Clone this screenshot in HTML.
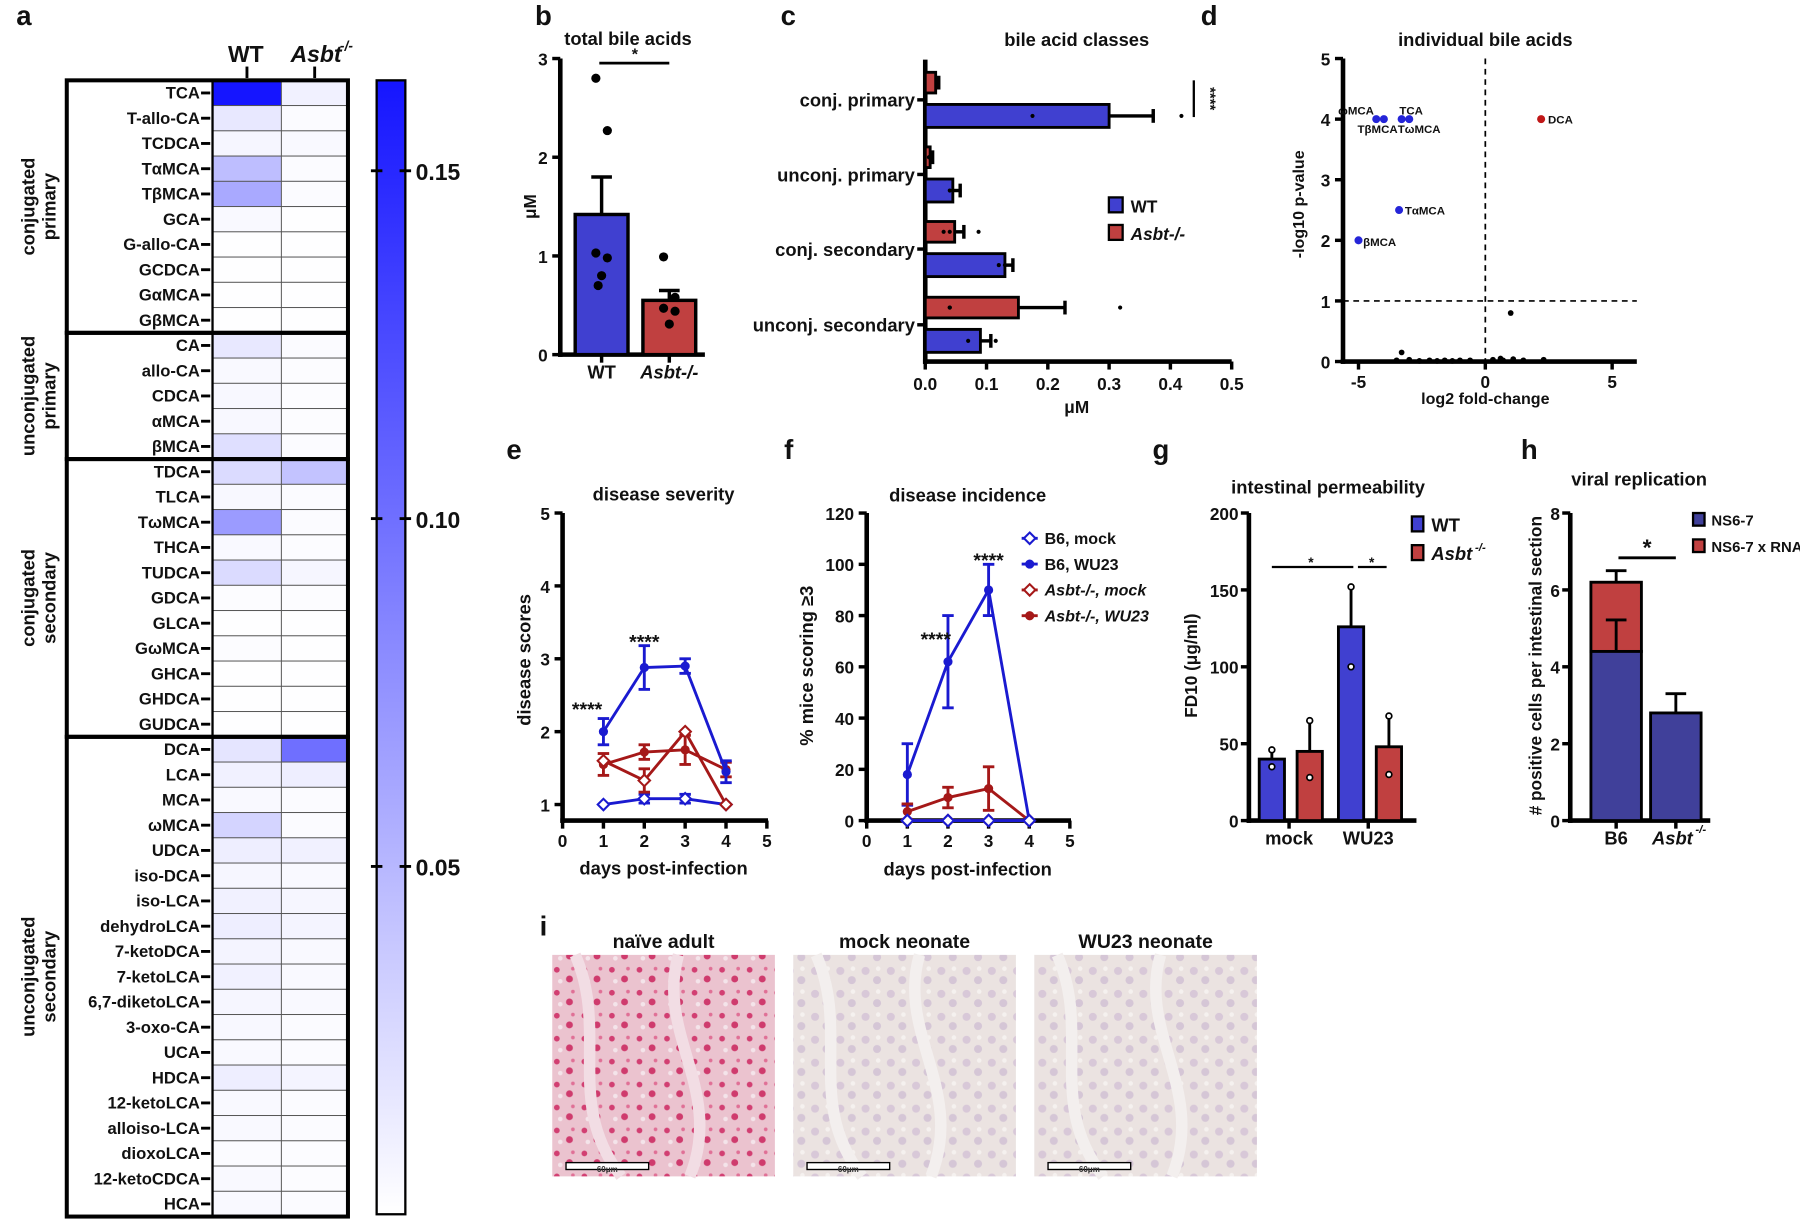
<!DOCTYPE html>
<html><head><meta charset="utf-8"><style>
html,body{margin:0;padding:0;background:#fff;}
svg{display:block;font-family:"Liberation Sans",Arial,sans-serif;font-weight:bold;}
.n{font-family:"Liberation Sans Narrow","Liberation Sans",sans-serif;}
</style></head><body>
<svg id="fig" xmlns="http://www.w3.org/2000/svg" width="1800" height="1220" viewBox="0 0 1568 1063">
<defs>
<linearGradient id="cbar" x1="0" y1="1" x2="0" y2="0"><stop offset="0" stop-color="#ffffff"/><stop offset="1" stop-color="#1515ff"/></linearGradient>
<pattern id="pinkTex" width="24" height="20" patternUnits="userSpaceOnUse"><rect width="24" height="20" fill="#ebc3cf"/><circle cx="5" cy="5" r="2.5" fill="#d23f72"/><circle cx="16" cy="13" r="3" fill="#cf3b6d"/><circle cx="19" cy="4" r="1.6" fill="#e07096"/><circle cx="8" cy="15" r="2" fill="#f4e4ea"/></pattern>
<pattern id="paleTex" width="22" height="20" patternUnits="userSpaceOnUse"><rect width="22" height="20" fill="#ebe3e1"/><circle cx="6" cy="6" r="3.5" fill="#d8c8d8"/><circle cx="16" cy="14" r="3.5" fill="#d5c6d6"/><circle cx="17" cy="4" r="2" fill="#f5f1ef"/></pattern>
</defs>
</svg>
<script>
const NS='http://www.w3.org/2000/svg';
const svg=document.getElementById('fig');
function mk(tag,attrs,name,parent){const el=document.createElementNS(NS,tag);for(const k in attrs)el.setAttribute(k,attrs[k]);


(parent||svg).appendChild(el);return el;}
function tx(x,y,s,name,o){o=o||{};const el=mk('text',{x:x,y:y,'font-size':o.fs||15,'text-anchor':o.a||'middle',fill:o.fill||'#111','font-style':o.it?'italic':'normal',class:o.cls||'',transform:o.rot?`rotate(${o.rot} ${x} ${y})`:''},name);el.textContent=s;return el;}
function ln(x1,y1,x2,y2,name,w,c,dash){return mk('line',{x1:x1,y1:y1,x2:x2,y2:y2,stroke:c||'#000','stroke-width':w||3,'stroke-dasharray':dash||''},name);}
function rc(x,y,w,h,fill,name,sw){return mk('rect',{x:x,y:y,width:w,height:h,fill:fill,stroke:sw===0?'none':'#000','stroke-width':sw||2},name);}
function dot(x,y,r,fill,name,stroke){return mk('circle',{cx:x,cy:y,r:r,fill:fill,stroke:stroke||'none','stroke-width':1.5},name);}

// ---------- Panel letters ----------
const letters=[['a',14,22],['b',466,22],['c',680,22],['d',1046,22],['e',441,400],['f',683,400],['g',1004,400],['h',1325,400],['i',470,815]];
letters.forEach(l=>tx(l[1],l[2],l[0],'panel-letter-'+l[0],{fs:24,a:'start'}));

// ---------- Panel a: heatmap ----------
const haNames=['TCA','T-allo-CA','TCDCA','TαMCA','TβMCA','GCA','G-allo-CA','GCDCA','GαMCA','GβMCA','CA','allo-CA','CDCA','αMCA','βMCA','TDCA','TLCA','TωMCA','THCA','TUDCA','GDCA','GLCA','GωMCA','GHCA','GHDCA','GUDCA','DCA','LCA','MCA','ωMCA','UDCA','iso-DCA','iso-LCA','dehydroLCA','7-ketoDCA','7-ketoLCA','6,7-diketoLCA','3-oxo-CA','UCA','HDCA','12-ketoLCA','alloiso-LCA','dioxoLCA','12-ketoCDCA','HCA'];
const haWT=[0.163,0.016,0.006,0.045,0.06,0.004,0.001,0.001,0.001,0.001,0.016,0.004,0.005,0.005,0.022,0.025,0.005,0.07,0.004,0.025,0.002,0.001,0.002,0.001,0.001,0.001,0.018,0.01,0.004,0.03,0.012,0.006,0.01,0.012,0.008,0.01,0.006,0.005,0.004,0.012,0.004,0.004,0.003,0.004,0.004];
const haKO=[0.01,0.003,0.004,0.003,0.003,0.001,0.001,0.001,0.001,0.001,0.003,0.002,0.002,0.002,0.003,0.042,0.003,0.003,0.002,0.006,0.002,0.001,0.001,0.001,0.0005,0.0005,0.1,0.012,0.003,0.003,0.01,0.004,0.006,0.008,0.004,0.004,0.004,0.003,0.003,0.008,0.003,0.003,0.002,0.002,0.003];
const haGroups=[['conjugated','primary',10],['unconjugated','primary',5],['conjugated','secondary',11],['unconjugated','secondary',19]];
const cbTicks=[0.05,0.10,0.15];
const HMAX=0.163,rowY0=70,rowH=22,colX=[185,245],colW=[60,58];
function heatColor(v){const t=Math.max(0,Math.min(1,v/HMAX));const r=Math.round(255-t*(255-21));return `rgb(${r},${r},255)`;}
const gHeat=mk('g',{},'heatmap');
haNames.forEach((nm,i)=>{
  const y=rowY0+i*rowH;
  [haWT[i],haKO[i]].forEach((v,j)=>{
    mk('rect',{x:colX[j],y:y,width:colW[j],height:rowH,fill:heatColor(v),stroke:'#555','stroke-width':0.8},'heat-cell',gHeat);
  });
  tx(174,y+16,nm,'row-label',{fs:14.5,a:'end'});
  ln(175,y+11,183,y+11,'row-tick',2.5);
});
let gy=rowY0;
haGroups.forEach((g,k)=>{
  const h=g[2]*rowH;
  rc(58,gy,245,h,'none','group-box-'+k,3.5);
  ln(185,gy,185,gy+h,'group-divider',2);
  const cy=gy+h/2;
  tx(30,cy,g[0],'group-label',{fs:16,rot:-90});
  tx(48,cy,g[1],'group-label',{fs:16,rot:-90});
  gy+=h;
});
tx(214,54,'WT','col-label-wt',{fs:20});
tx(253,54,'Asbt','col-label-asbt',{fs:20,it:true,a:'start'});
tx(296,44,'-/-','col-label-sup',{fs:12,it:true,a:'start'});
ln(215,58,215,68,'col-tick',2.5);ln(274,58,274,68,'col-tick',2.5);
const cbY0=70,cbY1=1058;
rc(328,cbY0,25,cbY1-cbY0,'url(#cbar)','colorbar',2);
function cbY(v){return cbY1-(v/HMAX)*(cbY1-cbY0);}
cbTicks.forEach(t=>{const y=cbY(t);ln(323,y,333,y,'colorbar-tick',2.5);ln(348,y,358,y,'colorbar-tick',2.5);tx(362,y+8,t.toFixed(2),'colorbar-label',{fs:20,a:'start'});});

// ---------- Panel b ----------
const bCats=['WT','Asbt-/-'];
const bMeans=[1.42,0.55];
const bErr=[1.8,0.65];
const bPtsWT=[2.8,2.27,1.03,0.98,0.8,0.7];
const bPtsKO=[0.99,0.58,0.47,0.44,0.31];
const bTicks=[0,1,2,3];
function bY(v){return 309-v*86;}
const bX=[524,583],bW=[46,46],bColors=['#4040d0','#c04040'];
ln(488,bY(3),488,311,'b-y-axis',4);ln(486,309,614,309,'b-x-axis',4);
bTicks.forEach(t=>{ln(481,bY(t),488,bY(t),'b-y-tick',3);tx(477,bY(t)+6,t,'b-y-label',{fs:15,a:'end',cls:'n'});});
bMeans.forEach((m,i)=>{ln(bX[i],bY(m),bX[i],bY(bErr[i]),'b-errbar',3);ln(bX[i]-9,bY(bErr[i]),bX[i]+9,bY(bErr[i]),'b-errcap',3);rc(bX[i]-bW[i]/2,bY(m),bW[i],bY(0)-bY(m),bColors[i],'b-bar-'+i,3);ln(bX[i],309,bX[i],316,'b-x-tick',3);});
[bPtsWT,bPtsKO].forEach((pts,i)=>pts.forEach((p,k)=>dot(bX[i]+[-5,5,-5,5,0,-3][k],bY(p),4,'#000','b-point')));
tx(bX[0],330,'WT','b-x-label',{fs:16,cls:'n'});tx(bX[1],330,'Asbt-/-','b-x-label',{fs:16,it:true,cls:'n'});
tx(547,39,'total bile acids','b-title',{fs:16,cls:'n'});
ln(522,55,583,55,'b-sig-line',2.5);tx(553,52,'*','b-sig',{fs:14});
tx(467,180,'μM','b-y-title',{fs:15,rot:-90});

// ---------- Panel c ----------
const cCats=['conj. primary','unconj. primary','conj. secondary','unconj. secondary'];
const cKO=[0.017,0.008,0.048,0.152];
const cKOerr=[0.022,0.012,0.063,0.228];
const cWT=[0.3,0.045,0.13,0.09];
const cWTerr=[0.372,0.057,0.143,0.107];
const cPtsWT=[[0.175,0.418],[0.04,0.045],[0.12,0.13],[0.07,0.115]];
const cPtsKO=[[0.02],[0.006],[0.03,0.04,0.087],[0.04,0.04,0.318]];
const cTicks=[0,0.1,0.2,0.3,0.4,0.5];
function cX(v){return 806+v*534;}
const cCatY=[87,152,217,283];
ln(806,52,806,317,'c-y-axis',4);ln(804,315,1073,315,'c-x-axis',4);
cTicks.forEach(t=>{ln(cX(t),315,cX(t),322,'c-x-tick',3);tx(cX(t),340,t.toFixed(1),'c-x-label',{fs:15,cls:'n'});});
cCats.forEach((c,i)=>{
  const yc=cCatY[i];
  ln(799,yc,806,yc,'c-y-tick',3);tx(797,yc+6,c,'c-y-label',{fs:16,a:'end',cls:'n'});
  const yr=yc-24,yb=yc+4;
  ln(cX(cKO[i]),yr+9,cX(cKOerr[i]),yr+9,'c-err',3);ln(cX(cKOerr[i]),yr+3,cX(cKOerr[i]),yr+15,'c-errcap',3);
  rc(806,yr,cX(cKO[i])-806,18,'#c04040','c-bar-ko',2.5);
  ln(cX(cWT[i]),yb+10,cX(cWTerr[i]),yb+10,'c-err',3);ln(cX(cWTerr[i]),yb+4,cX(cWTerr[i]),yb+16,'c-errcap',3);
  rc(806,yb,cX(cWT[i])-806,20,'#4040d0','c-bar-wt',2.5);
  cPtsKO[i].forEach(p=>dot(cX(p),yr+9,1.8,'#000','c-point'));
  cPtsWT[i].forEach(p=>dot(cX(p),yb+10,1.8,'#000','c-point'));
});
tx(938,360,'μM','c-x-title',{fs:15});
tx(938,40,'bile acid classes','c-title',{fs:16,cls:'n'});
rc(966,172,12,13,'#4040d0','c-legend-wt-swatch',2);tx(985,185,'WT','c-legend-wt',{fs:15,a:'start',cls:'n'});
rc(966,196,12,13,'#c04040','c-legend-ko-swatch',2);tx(985,209,'Asbt-/-','c-legend-ko',{fs:15,a:'start',it:true,cls:'n'});
ln(1040,70,1040,102,'c-sig-line',2);tx(1050,86,'****','c-sig',{fs:13,rot:90});

// ---------- Panel d ----------
const dBlue=[[-4.3,4.0],[-4.0,4.0],[-3.3,4.0],[-3.0,4.0],[-3.4,2.5],[-5.0,2.0]];
const dBlueNames=['ωMCA','TβMCA','TCA','TωMCA','TαMCA','βMCA'];
const dRed=[[2.2,4.0]];
const dBlack=[[1.0,0.8],[-3.3,0.15],[-3.5,0.02],[-3.0,0.03],[-2.6,0.01],[-2.2,0.02],[-1.9,0.01],[-1.6,0.02],[-1.3,0.01],[-0.6,0.02],[0.3,0.03],[0.6,0.05],[0.7,0.02],[1.1,0.04],[1.5,0.02],[2.3,0.03],[-1.0,0.02]];
const dXTicks=[-5,0,5],dYTicks=[0,1,2,3,4,5];
const dLblOff=[[-2,-4,'end'],[12,12,'end'],[-2,-4,'start'],[-10,12,'start'],[5,4,'start'],[4,5,'start']];
function dX(v){return 1294+v*22.1;}function dY(v){return 315-v*52.8;}
ln(1170,dY(5),1170,317,'d-y-axis',4);ln(1168,315,1426,315,'d-x-axis',4);
dYTicks.forEach(t=>{ln(1163,dY(t),1170,dY(t),'d-y-tick',3);tx(1159,dY(t)+6,t,'d-y-label',{fs:15,a:'end',cls:'n'});});
dXTicks.forEach(t=>{ln(dX(t),315,dX(t),322,'d-x-tick',3);tx(dX(t),338,t,'d-x-label',{fs:15,cls:'n'});});
ln(dX(0),dY(5),dX(0),315,'d-vline',1.5,'#000','5,4');ln(1170,dY(1),1426,dY(1),'d-hline',1.5,'#000','5,4');
dBlack.forEach(p=>dot(dX(p[0]),dY(p[1]),2.5,'#000','d-point-ns'));
dBlue.forEach((p,i)=>{dot(dX(p[0]),dY(p[1]),3.5,'#2525d8','d-point-down');const o=dLblOff[i];tx(dX(p[0])+o[0],dY(p[1])+o[1],dBlueNames[i],'d-point-label',{fs:10,a:o[2]});});
dRed.forEach(p=>{dot(dX(p[0]),dY(p[1]),3.5,'#c01818','d-point-up');tx(dX(p[0])+6,dY(p[1])+4,'DCA','d-point-label',{fs:10,a:'start'});});
tx(1294,40,'individual bile acids','d-title',{fs:16,cls:'n'});
tx(1294,352,'log2 fold-change','d-x-title',{fs:14});
tx(1136,178,'-log10 p-value','d-y-title',{fs:14,rot:-90});

// ---------- Panel e ----------
const days=[1,2,3,4];
const eB6mock=[1,1.08,1.08,1];
const eB6mockErr=[0,0.06,0.06,0];
const eB6wu=[2.0,2.88,2.9,1.45];
const eB6wuErr=[0.18,0.3,0.1,0.15];
const eKOmock=[1.6,1.33,2.0,1.0];
const eKOmockErr=[0,0.16,0,0];
const eKOwu=[1.55,1.72,1.75,1.48];
const eKOwuErr=[0.15,0.1,0.2,0.1];
const eYTicks=[1,2,3,4,5],xTicks=[0,1,2,3,4,5];
function eX(v){return 490+v*35.6;}function eY(v){return 701-(v-1)*63.5;}
ln(490,447,490,717,'e-y-axis',4);ln(488,715,669,715,'e-x-axis',4);
eYTicks.forEach(t=>{ln(483,eY(t),490,eY(t),'e-y-tick',3);tx(479,eY(t)+6,t,'e-y-label',{fs:15,a:'end',cls:'n'});});
xTicks.forEach(t=>{ln(eX(t),715,eX(t),722,'e-x-tick',3);tx(eX(t),738,t,'e-x-label',{fs:15,cls:'n'});});
function series(X,Y,vals,errs,color,filled,name){
  const pts=vals.map((v,i)=>X(days[i])+','+Y(v)).join(' ');
  mk('polyline',{points:pts,fill:'none',stroke:color,'stroke-width':2.5},name+'-line');
  vals.forEach((v,i)=>{const x=X(days[i]);if(errs[i]>0){ln(x,Y(v-errs[i]),x,Y(v+errs[i]),name+'-err',2.5,color);ln(x-5,Y(v+errs[i]),x+5,Y(v+errs[i]),name+'-cap',2.5,color);ln(x-5,Y(v-errs[i]),x+5,Y(v-errs[i]),name+'-cap',2.5,color);}
    if(filled)dot(x,Y(v),4,color,name+'-point');
    else mk('polygon',{points:`${x},${Y(v)-5} ${x+5},${Y(v)} ${x},${Y(v)+5} ${x-5},${Y(v)}`,fill:'#fff',stroke:color,'stroke-width':1.8},name+'-point');});
}
series(eX,eY,eB6mock,eB6mockErr,'#1a1ad0',false,'e-b6-mock');
series(eX,eY,eKOwu,eKOwuErr,'#a51818',true,'e-ko-wu23');
series(eX,eY,eKOmock,eKOmockErr,'#a51818',false,'e-ko-mock');
series(eX,eY,eB6wu,eB6wuErr,'#1a1ad0',true,'e-b6-wu23');
tx(eX(0.6),624,'****','e-sig',{fs:17});tx(eX(2),565,'****','e-sig',{fs:17});
tx(578,436,'disease severity','e-title',{fs:16,cls:'n'});
tx(578,762,'days post-infection','e-x-title',{fs:16,cls:'n'});
tx(462,575,'disease scores','e-y-title',{fs:16,rot:-90});

// ---------- Panel f ----------
const fB6mock=[0,0,0,0];
const fB6wu=[18,62,90,0];
const fB6wuErr=[12,18,10,0];
const fKOmock=[0,0,0,0];
const fKOwu=[3.5,9,12.5,0];
const fKOwuErr=[3,4,8.5,0];
const fYTicks=[0,20,40,60,80,100,120];
function fX(v){return 755+v*35.4;}function fY(v){return 715-v*2.233;}
ln(755,447,755,717,'f-y-axis',4);ln(753,715,933,715,'f-x-axis',4);
fYTicks.forEach(t=>{ln(748,fY(t),755,fY(t),'f-y-tick',3);tx(744,fY(t)+6,t,'f-y-label',{fs:15,a:'end',cls:'n'});});
xTicks.forEach(t=>{ln(fX(t),715,fX(t),722,'f-x-tick',3);tx(fX(t),738,t,'f-x-label',{fs:15,cls:'n'});});
series(fX,fY,fB6wu,fB6wuErr,'#1a1ad0',true,'f-b6-wu23');
series(fX,fY,fKOwu,fKOwuErr,'#a51818',true,'f-ko-wu23');
series(fX,fY,fKOmock,[0,0,0,0],'#a51818',false,'f-ko-mock');
series(fX,fY,fB6mock,[0,0,0,0],'#1a1ad0',false,'f-b6-mock');
tx(fX(1.7),563,'****','f-sig',{fs:17});tx(fX(3),494,'****','f-sig',{fs:17});
tx(843,437,'disease incidence','f-title',{fs:16,cls:'n'});
tx(843,763,'days post-infection','f-x-title',{fs:16,cls:'n'});
tx(708,580,'% mice scoring ≥3','f-y-title',{fs:16,rot:-90});
const legE=[['B6, mock','#1a1ad0',false,false],['B6, WU23','#1a1ad0',true,false],['Asbt-/-, mock','#a51818',false,true],['Asbt-/-, WU23','#a51818',true,true]];
legE.forEach((l,i)=>{const y=469+i*22.5;ln(890,y,904,y,'legend-line',2.5,l[1]);
 if(l[2])dot(897,y,4,l[1],'legend-marker');else mk('polygon',{points:`897,${y-5} 902,${y} 897,${y+5} 892,${y}`,fill:'#fff',stroke:l[1],'stroke-width':1.8},'legend-marker');
 tx(910,y+5,l[0],'legend-entry',{fs:14,a:'start',it:l[3],cls:'n'});});

// ---------- Panel g ----------
const gGroups=['mock','WU23'];
const gWT=[40,126];
const gWTerr=[46,152];
const gKO=[45,48];
const gKOerr=[65,68];
const gPtsWT=[35,100];
const gPtsKO=[28,30];
const gYTicks=[0,50,100,150,200];
function gY(v){return 715-v*1.34;}
const gCx=[1123,1192];
ln(1088,447,1088,717,'g-y-axis',4);ln(1086,715,1234,715,'g-x-axis',4);
gYTicks.forEach(t=>{ln(1081,gY(t),1088,gY(t),'g-y-tick',3);tx(1079,gY(t)+6,t,'g-y-label',{fs:15,a:'end',cls:'n'});});
gGroups.forEach((g,i)=>{
  const xw=gCx[i]-26,xk=gCx[i]+7;
  [[xw,gWT[i],gWTerr[i],gPtsWT[i],'#4040d0'],[xk,gKO[i],gKOerr[i],gPtsKO[i],'#c04040']].forEach(b=>{
    ln(b[0]+11,gY(b[1]),b[0]+11,gY(b[2]),'g-err',2.5);dot(b[0]+11,gY(b[2]),2.5,'#fff','g-point','#000');
    rc(b[0],gY(b[1]),22,gY(0)-gY(b[1]),b[4],'g-bar',2.5);
    dot(b[0]+11,gY(b[3]),2.5,'#fff','g-point','#000');
  });
  ln(gCx[i],715,gCx[i],722,'g-x-tick',3);tx(gCx[i],736,g,'g-x-label',{fs:16});
});
ln(1108,494,1179,494,'g-sig-line',2);tx(1142,494,'*','g-sig',{fs:12});
ln(1183,494,1208,494,'g-sig-line',2);tx(1195,494,'*','g-sig',{fs:12});
tx(1157,430,'intestinal permeability','g-title',{fs:16,cls:'n'});
tx(1043,580,'FD10 (μg/ml)','g-y-title',{fs:15,rot:-90});
rc(1230,450,10,13,'#4040d0','g-legend-wt-swatch',2);tx(1247,463,'WT','g-legend-wt',{fs:16,a:'start'});
rc(1230,475,10,13,'#c04040','g-legend-ko-swatch',2);tx(1247,488,'Asbt','g-legend-ko',{fs:16,a:'start',it:true});tx(1285,480,'-/-','g-legend-sup',{fs:10,it:true,a:'start'});

// ---------- Panel h ----------
const hCats=['B6','Asbt-/-'];
const hNS=[4.4,2.8];
const hNSerr=[5.22,3.3];
const hRNA=[1.8,0];
const hRNAerr=[0.3,0];
const hYTicks=[0,2,4,6,8];
function hY(v){return 715-v*33.5;}
const hCx=[1408,1460];
ln(1368,447,1368,717,'h-y-axis',4);ln(1366,715,1490,715,'h-x-axis',4);
hYTicks.forEach(t=>{ln(1361,hY(t),1368,hY(t),'h-y-tick',3);tx(1359,hY(t)+6,t,'h-y-label',{fs:15,a:'end',cls:'n'});});
hCats.forEach((c,i)=>{
  const x=hCx[i]-22,tot=hNS[i]+hRNA[i];
  if(hRNA[i]>0){ln(hCx[i],hY(tot),hCx[i],hY(tot+hRNAerr[i]),'h-err',2.5);ln(hCx[i]-9,hY(tot+hRNAerr[i]),hCx[i]+9,hY(tot+hRNAerr[i]),'h-cap',2.5);
    rc(x,hY(tot),44,hY(hNS[i])-hY(tot),'#c04040','h-bar-rna',2.5);}
  else{ln(hCx[i],hY(hNS[i]),hCx[i],hY(hNSerr[i]),'h-err',2.5);ln(hCx[i]-9,hY(hNSerr[i]),hCx[i]+9,hY(hNSerr[i]),'h-cap',2.5);}
  rc(x,hY(hNS[i]),44,hY(0)-hY(hNS[i]),'#40409a','h-bar-ns',2.5);
  if(hRNA[i]>0){ln(hCx[i],hY(hNS[i]),hCx[i],hY(hNSerr[i]),'h-err',2.5);ln(hCx[i]-9,hY(hNSerr[i]),hCx[i]+9,hY(hNSerr[i]),'h-cap',2.5);}
  ln(hCx[i],715,hCx[i],722,'h-x-tick',3);
});
tx(hCx[0],736,'B6','h-x-label',{fs:16});tx(hCx[1]-3,736,'Asbt','h-x-label',{fs:16,it:true});tx(hCx[1]+17,726,'-/-','h-x-sup',{fs:10,it:true,a:'start'});
ln(1410,486,1460,486,'h-sig-line',2.5);tx(1435,484,'*','h-sig',{fs:20});
tx(1428,423,'viral replication','h-title',{fs:16,cls:'n'});
tx(1343,580,'# positive cells per intestinal section','h-y-title',{fs:15,rot:-90});
rc(1475,447,10,11,'#40409a','h-legend-ns-swatch',2);tx(1491,458,'NS6-7','h-legend-ns',{fs:13,a:'start',cls:'n'});
rc(1475,470,10,11,'#c04040','h-legend-rna-swatch',2);tx(1491,481,'NS6-7 x RNA','h-legend-rna',{fs:13,a:'start',cls:'n'});

// ---------- Panel i ----------
const iTitles=['naïve adult','mock neonate','WU23 neonate'];
const iX=[481,691,901],iFill=['url(#pinkTex)','url(#paleTex)','url(#paleTex)'];
iTitles.forEach((t,i)=>{
  rc(iX[i],832,194,193,iFill[i],'histology-image-'+i,0);
  mk('path',{d:`M${iX[i]+20},832 C${iX[i]+50},900 ${iX[i]+10},960 ${iX[i]+60},1025 M${iX[i]+110},832 C${iX[i]+90},900 ${iX[i]+150},950 ${iX[i]+120},1025`,stroke:i==0?'#f2dde4':'#f3efee','stroke-width':10,fill:'none'},'histology-lumen');
  tx(iX[i]+97,826,t,'histology-title',{fs:17});
  rc(iX[i]+12,1013,72,6,'#fff','scale-bar',1.2);
  tx(iX[i]+48,1021,'60μm','scale-bar-label',{fs:7,fill:'#333'});
});
</script>
</body></html>
